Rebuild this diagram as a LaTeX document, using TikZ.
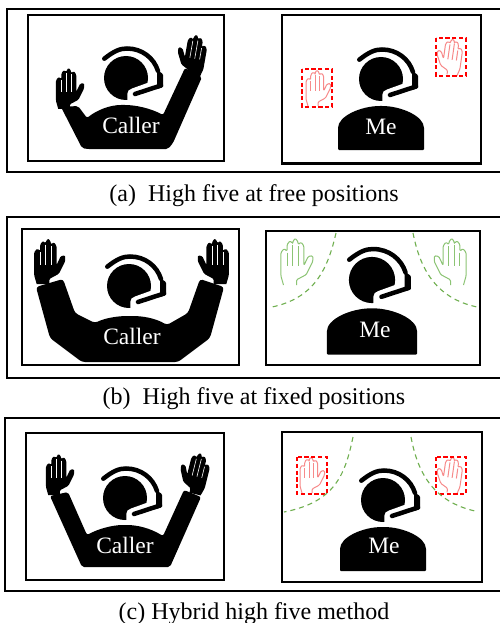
\documentclass[tikz,border=0pt]{standalone}
\usepackage{fontspec}
\setmainfont{Liberation Serif}
\tikzset{
  frame/.style={draw=black,line width=2pt},
  panel/.style={draw=black,line width=2.3pt,fill=white},
  capt/.style={font=\fontsize{24}{27}\selectfont,anchor=base,inner sep=0pt},
  who/.style={font=\fontsize{23.5}{26}\selectfont,text=white,inner sep=0pt},
  zone/.style={draw=red,line width=1.1pt,dash pattern=on 4.2pt off 2.6pt},
  reach/.style={draw=reachgreen,line width=1.1pt,dash pattern=on 5pt off 4pt},
  pics/headset/.style={code={
    \fill (0,0) circle[radius=22];
    \fill[white] (1.3,25) -- (1.3,16) .. controls (1.3,13) and (3,11.5) .. (6,10.5) -- (24,4) -- (27,25) -- cycle;
    \draw[line width=4.5pt,line cap=round] (-21.7,-19.3) .. controls (-12,-27) and (-6,-29.5) .. (1,-29.5) .. controls (16,-29.5) and (28,-20) .. (32,-7);
    \fill[rounded corners=1pt] (31,-8) -- (37,-4) -- (37,9) -- (31,11) -- cycle;
    \draw[line width=4.5pt,line cap=round] (35,7.5) -- (9,16);
  }},
  pics/torso/.style={code={
    \fill[rounded corners=1pt] (-43,71) -- (-43,50) .. controls (-43,37) and (-20,27) .. (0,27) .. controls (20,27) and (43,37) .. (43,50) -- (43,71) -- cycle;
  }},
  pics/blackhand/.style={code={
    \fill[rounded corners=1.2pt] \handoutline;
    \draw[white,line width=.6pt] \handslits;
  }},
  pics/linehand/.style={code={
    \draw[#1,line width=1pt,rounded corners=1.2pt,line join=round] \handoutline;
    \draw[#1,line width=1pt] \handslits;
  }},
}
\definecolor{reachgreen}{HTML}{6FAF4F}
\definecolor{softred}{HTML}{F78A8A}
\definecolor{softgreen}{HTML}{8CC474}
% Hand silhouette, wrist at the origin, fingers pointing up, thumb on the right
\newcommand{\handoutline}{(-5,0) -- (-7,-7) -- (-7,-25) -- (-4.5,-28) -- (-2.3,-26) -- (-2.3,-31) -- (0,-34) -- (2,-32) -- (2,-33) -- (4,-36) -- (6.3,-33) -- (6.3,-31) -- (8.5,-33) -- (10.7,-30) -- (10.7,-15) -- (14,-22) -- (17.5,-22.5) -- (17.5,-18) -- (12.5,-8) -- (5,-4) -- (5,0)}
\newcommand{\handslits}{(-2.3,-25) -- (-2.3,-15) (2,-31) -- (2,-15) (6.3,-30) -- (6.3,-15)}
\begin{document}
\begin{tikzpicture}[x=1pt,y=-1pt]
\clip (0,0) rectangle (500,623);
\fill[white] (0,0) rectangle (500,623);

% Row (a): free positions
\draw[frame] (510,9) -- (7,9) -- (7,172) -- (510,172);
\draw[panel] (28,15) rectangle (224,161);
\draw[panel] (282,15) rectangle (481,163.5);
\fill[rounded corners=2pt] (61,107) -- (82,148) -- (87,149) -- (168,149) -- (173,143) -- (202,77) -- (185,68) -- (163,115) .. controls (150,108) and (135,105) .. (123,105) .. controls (110,105) and (97,110) .. (87,118) -- (78,106) -- cycle;
\pic at (126,78) {headset};
\pic[scale=1.15] at (64,109) {blackhand};
\pic[xscale=-1.15,yscale=1.15,rotate=10] at (194,76) {blackhand};
\node[who] (callerA) at (131,125) {Caller};
\pic at (381,79) {headset};
\pic at (381,79) {torso};
\node[who] (meA) at (381,127) {Me};
\pic at (313,106) {linehand=softred};
\pic[xscale=-1,rotate=8] at (452,75) {linehand=softred};
\draw[zone] (302,69) rectangle (332,107);
\draw[zone] (436,38) rectangle (466,76);
\node[capt] (captA) at (254,201) {(a)\ \ High five at free positions};

% Row (b): fixed positions
\draw[frame] (510,217) -- (7,217) -- (7,378) -- (510,378);
\draw[panel] (22,229) rectangle (239,365);
\draw[panel] (266,231) rectangle (480,365);
\fill[rounded corners=3pt] (36,287) -- (50,338) -- (82,362) -- (178,362) -- (210,338) -- (224,287) -- (200,279) -- (188,313) -- (167,325) .. controls (155,318) and (142,316) .. (130,316) .. controls (118,316) and (105,318) .. (95,323) -- (75,313) -- (63,279) -- cycle;
\pic at (129,286) {headset};
\pic[scale=1.27] at (43,284) {blackhand};
\pic[xscale=-1.27,yscale=1.27] at (220,284) {blackhand};
\node[who] (callerB) at (132,336) {Caller};
\pic[scale=1.05] at (372,280) {headset};
\pic[scale=1.05] at (372,280) {torso};
\node[who] (meB) at (375,330) {Me};
\pic[scale=1.3] at (290,285) {linehand=softgreen};
\pic[xscale=-1.3,yscale=1.3] at (457,285) {linehand=softgreen};
\draw[reach] (336,233) .. controls (328,268) and (315,298) .. (272,307);
\draw[reach] (413,233) .. controls (420,268) and (435,298) .. (477,307);
\node[capt] (captB) at (254,404) {(b)\ \ High five at fixed positions};

% Row (c): hybrid method
\draw[frame] (510,418) -- (5,418) -- (5,591) -- (510,591);
\draw[panel] (26,433) rectangle (224,580);
\draw[panel] (282,432) rectangle (482,582);
\fill[rounded corners=2pt] (50,496) -- (82,567) -- (170,567) -- (201,497) -- (184,490) -- (163,536) .. controls (150,528) and (137,525) .. (125,525) .. controls (112,525) and (98,529) .. (87,535) -- (68,492) -- cycle;
\pic at (125,498) {headset};
\pic[scale=1.15] at (54,495) {blackhand};
\pic[xscale=-1.15,yscale=1.15,rotate=14] at (195,494) {blackhand};
\node[who] (callerC) at (125,545) {Caller};
\pic at (383,500) {headset};
\pic at (383,500) {torso};
\node[who] (meC) at (384,546) {Me};
\pic at (307,493) {linehand=softred};
\pic[xscale=-1,rotate=8] at (452,493) {linehand=softred};
\draw[zone] (297,457) rectangle (327,494);
\draw[zone] (436,457) rectangle (466,494);
\draw[reach] (353,437) .. controls (345,475) and (335,502) .. (284,512);
\draw[reach] (411,437) .. controls (418,475) and (435,502) .. (475,511);
\node[capt] (captC) at (254,619) {(c) Hybrid high five method};
\end{tikzpicture}
\end{document}
